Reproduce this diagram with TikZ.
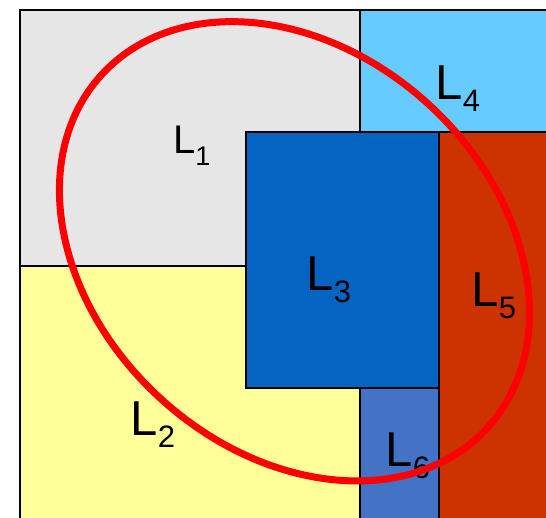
\documentclass[tikz,border=0pt]{standalone}
\usepackage{fontspec}
\setmainfont{Liberation Sans}
\definecolor{cgray}{HTML}{E6E6E6}
\definecolor{clblue}{HTML}{66CCFF}
\definecolor{cdblue}{HTML}{0563C1}
\definecolor{cbrick}{HTML}{CC3300}
\definecolor{cyel}{HTML}{FFFF99}
\definecolor{cmblue}{HTML}{4472C4}
\newcommand{\Lsub}[4]{{\fontsize{#1}{#1}\selectfont L}{\fontsize{#2}{#2}\selectfont\raisebox{-#3pt}{#4}}}
\tikzset{
  region/.style={draw=black, line width=1.5pt},
  lab/.style={inner sep=0pt, anchor=base west},
  ring/.style={draw=red, line width=7pt}
}
\begin{document}
\begin{tikzpicture}[x=1pt,y=1pt]
\useasboundingbox (0,0) rectangle (546,518);
\clip (0,0) rectangle (546,518);
\fill[white] (0,0) rectangle (546,518);
% regions (image y converted: y_tikz = 518 - y_img)
\path[region, fill=cgray] (20,508) rectangle (360,252);
\path[region, fill=clblue] (360,508) rectangle (560,386);
\path[region, fill=cyel] (20,252) rectangle (360,-10);
\path[region, fill=cmblue] (360,130) rectangle (439,-10);
\path[region, fill=cbrick] (439,386) rectangle (560,-10);
\path[region, fill=cdblue] (246,386) rectangle (439,130);
% labels
\node[lab] (l1) at (173,364) {\Lsub{40}{27}{12}{1}};
\node[lab] (l4) at (435.5,418) {\Lsub{49}{31}{12}{4}};
\node[lab] (l3) at (306.5,227) {\Lsub{49}{31}{12}{3}};
\node[lab] (l5) at (471.5,211) {\Lsub{49}{31}{12}{5}};
\node[lab] (l2) at (130.5,82) {\Lsub{49}{31}{12}{2}};
\node[lab] (l6) at (385.5,51) {\Lsub{49}{31}{12}{6}};
% ellipse
\coordinate (c) at (294.5,266.7);
\draw[ring, rotate around={-42.5:(c)}] (c) ellipse [x radius=261.5, y radius=199];
\end{tikzpicture}
\end{document}
